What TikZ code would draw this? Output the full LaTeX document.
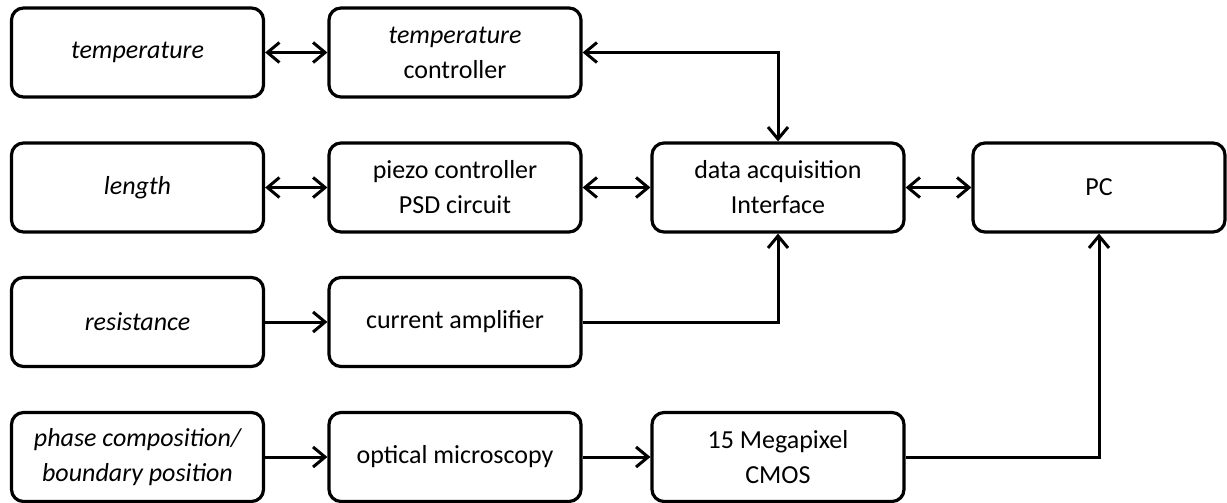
\documentclass[tikz,border=0pt]{standalone}
\usepackage{fontspec}
\setmainfont{Carlito}
\usetikzlibrary{arrows.meta}
\tikzset{
  block/.style={draw, line width=3.2pt, rounded corners=12pt,
    minimum width=252pt, minimum height=89pt, inner sep=0pt,
    align=center, font=\fontsize{26}{35}\selectfont},
  qty/.style={block, font=\fontsize{26}{35}\selectfont\itshape},
  link/.style={line width=3pt, >={Straight Barb[length=12pt,width=20pt]}}
}
\begin{document}
\begin{tikzpicture}
\useasboundingbox (0pt,0pt) rectangle (1227pt,-503pt);
% measured quantities
\node[qty] (temp)  at (137.5pt,-52.5pt) {temperature};
\node[qty] (len)   at (137.5pt,-187.5pt) {length};
\node[qty] (res)   at (137.5pt,-322pt) {resistance};
\node[qty] (phase) at (137.5pt,-457pt) {phase composition/\\boundary position};
% instruments
\node[block] (tctrl) at (455pt,-52.5pt) {{\itshape temperature}\\controller};
\node[block] (piezo) at (455pt,-187.5pt) {piezo controller\\PSD circuit};
\node[block] (amp)   at (455pt,-322pt) {current amplifier};
\node[block] (optic) at (455pt,-457pt) {optical microscopy};
\node[block] (daq)   at (778pt,-187.5pt) {data acquisition\\Interface};
\node[block] (cmos)  at (778pt,-457pt) {15 Megapixel\\CMOS};
\node[block] (pc)    at (1099pt,-187.5pt) {PC};
\draw[link,<->] (temp) -- (tctrl);
\draw[link,<->] (tctrl.east) -| (daq.north);
\draw[link,<->] (len) -- (piezo);
\draw[link,<->] (piezo) -- (daq);
\draw[link,<->] (daq) -- (pc);
\draw[link,->] (res) -- (amp);
\draw[link,->] (amp.east) -| (daq.south);
\draw[link,->] (phase) -- (optic);
\draw[link,->] (optic) -- (cmos);
\draw[link,->] (cmos.east) -| (pc.south);
\end{tikzpicture}
\end{document}
